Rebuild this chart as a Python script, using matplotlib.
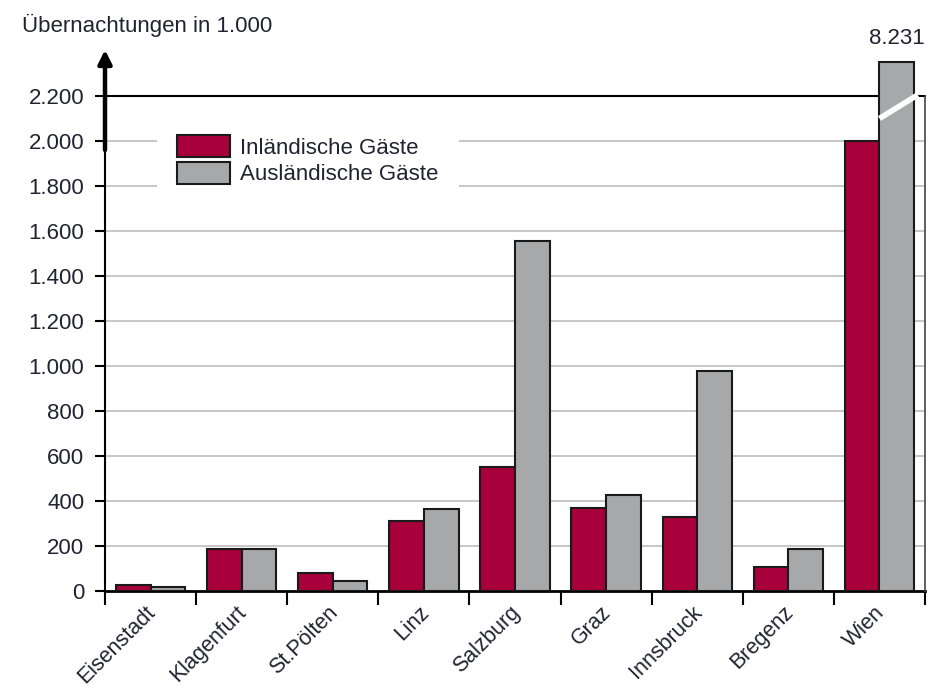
import numpy as np
import matplotlib
matplotlib.use("Agg")
import matplotlib.pyplot as plt
from matplotlib.transforms import ScaledTranslation

plt.rcParams['font.family'] = ['Liberation Sans', 'DejaVu Sans']

cities = ['Eisenstadt', 'Klagenfurt', 'St.Pölten', 'Linz', 'Salzburg',
          'Graz', 'Innsbruck', 'Bregenz', 'Wien']
inland = [27, 188, 80, 312, 552, 370, 330, 107, 2000]
ausland = [17, 188, 44, 364, 1555, 427, 978, 187, 8231]
y_ticks = [0, 200, 400, 600, 800, 1000, 1200, 1400, 1600, 1800, 2000, 2200]
y_labels = ['0', '200', '400', '600', '800', '1.000', '1.200', '1.400',
            '1.600', '1.800', '2.000', '2.200']

RED = '#a8003a'
GREY = '#a7a8aa'
TXT = '#222230'
CAP = 2350      # drawn height of the broken bar
FS = 16

fig = plt.figure(figsize=(9.33, 6.86), dpi=100)
ax = fig.add_axes([105/933, 1 - 591/686, 820/933, 2420*0.225/686])

x = np.arange(len(cities)) + 0.5
w = 0.38
shown = [min(v, CAP) for v in ausland]

# grid
for t in y_ticks[1:-1]:
    ax.axhline(t, color='#bdbdbd', lw=1.2, zorder=0)
ax.plot([0, 9], [2200, 2200], color='black', lw=1.5, zorder=1, clip_on=False)

ax.bar(x - w/2, inland, w, color=RED, edgecolor='#1a1a1a', lw=1.5, zorder=3,
       label='Inländische Gäste')
ax.bar(x + w/2, shown, w, color=GREY, edgecolor='#1a1a1a', lw=1.5, zorder=3,
       label='Ausländische Gäste')

# break marker on the Wien bar
ax.plot([8.5, 8.92], [2100, 2205], color='white', lw=4, zorder=5,
        solid_capstyle='butt')
ax.text(x[-1] + w/2, CAP + 60, f"{ausland[-1]/1000:.3f}",
        ha='center', va='bottom', fontsize=FS, color=TXT)

ax.set_xlim(0, 9)
ax.set_ylim(0, 2420)
for s in ['top', 'right', 'left']:
    ax.spines[s].set_visible(False)
ax.spines['bottom'].set_linewidth(2)
ax.plot([0, 0], [0, 2200], color='black', lw=1.5, clip_on=False, zorder=4)
ax.plot([9, 9], [0, 2200], color='#444444', lw=1.2, clip_on=False, zorder=4)
ax.annotate('', xy=(0, 2405), xytext=(0, 1960), annotation_clip=False,
            arrowprops=dict(arrowstyle='-|>', lw=3.2, color='black',
                            mutation_scale=20, shrinkA=0, shrinkB=0), zorder=6)

ax.set_yticks(y_ticks)
ax.set_yticklabels(y_labels, fontsize=FS, color=TXT)
ax.tick_params(axis='y', length=7, width=1.5, pad=8)

ax.set_xticks(np.arange(10), minor=True)
ax.set_xticks(x)
ax.set_xticklabels(cities, rotation=45, ha='right', va='top',
                   rotation_mode='anchor', fontsize=15.5, color=TXT)
ax.tick_params(axis='x', which='major', length=0, pad=8)
ax.tick_params(axis='x', which='minor', length=10, width=1.5)
for lab in ax.get_xticklabels():
    lab.set_transform(lab.get_transform() + ScaledTranslation(-4/72, 0, fig.dpi_scale_trans))

leg = ax.legend(loc='upper left', bbox_to_anchor=(157/933, 1 - 115/686),
                bbox_transform=fig.transFigure, fontsize=FS, frameon=True,
                facecolor='white', edgecolor='none', framealpha=1, fancybox=False,
                borderpad=0.9, handlelength=2.4, handleheight=1.15,
                labelspacing=0.15, handletextpad=0.45, borderaxespad=0)
for t in leg.get_texts():
    t.set_color(TXT)
leg.set_zorder(2)

fig.text(22/933, 1 - 25/686, 'Übernachtungen in 1.000', fontsize=FS,
         color=TXT, va='center', ha='left')

fig.savefig('out.png', dpi=100)
